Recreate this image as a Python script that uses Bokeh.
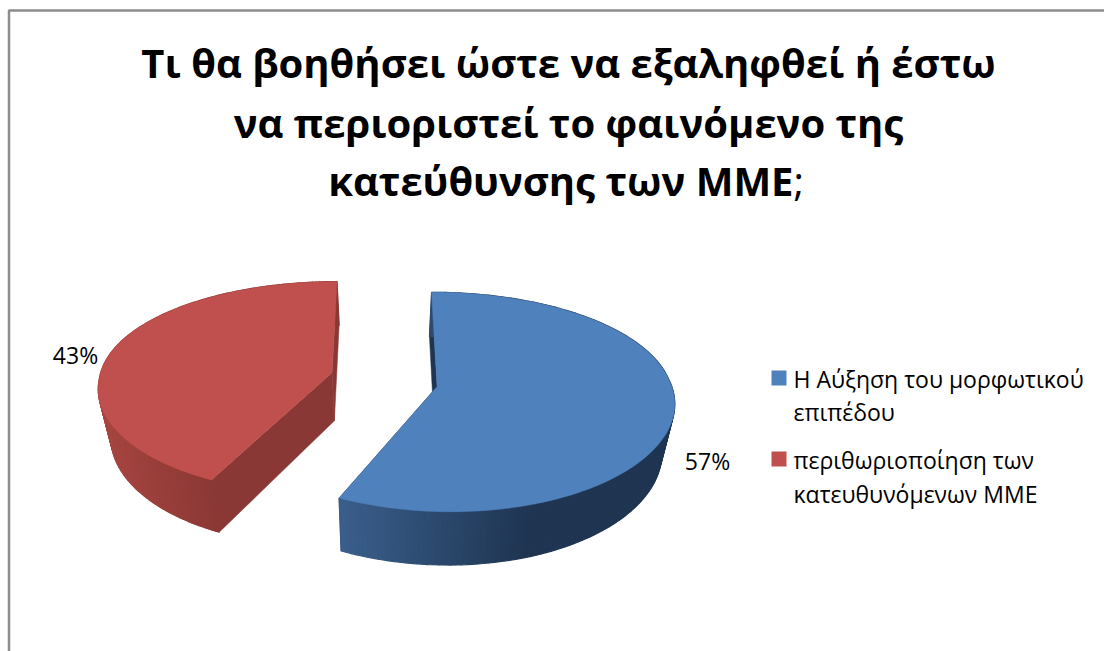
import math
from bokeh.plotting import figure
from bokeh.embed import file_html
from bokeh.resources import INLINE
from bokeh.core.properties import value

title_lines = ["Τι θα βοηθήσει ώστε να εξαληφθεί ή έστω",
               "να περιοριστεί το φαινόμενο της",
               "κατεύθυνσης των ΜΜΕ"]
title_tail = ";"
categories = ["Η Αύξηση του μορφωτικού επιπέδου",
              "περιθωριοποίηση των κατευθυνόμενων ΜΜΕ"]
legend_lines = [["Η Αύξηση του μορφωτικού", "επιπέδου"],
                ["περιθωριοποίηση των", "κατευθυνόμενων ΜΜΕ"]]
shares = [57, 43]
share_labels = ["57%", "43%"]
top_colors = ["#4F81BD", "#C0504D"]
wall_left = [(58, 95, 140), (166, 69, 64)]
wall_right = [(31, 53, 82), (138, 56, 53)]
edge_colors = ["#1F3552", "#8A3835"]

# Projection of the exploded 3D pie on to the page
VP_X, VP_Y = 383.5, 379.0
R_X, R_Y = 233.0, 105.6
PERSP_X, PERSP_Y = 0.106, 0.14
EXPLODE_U, EXPLODE_V = 0.23, 0.30
NEAR_SPREAD = 0.13
DEPTH_SCALE = 0.955
DROP_MID, DROP_TILT = 48.5, 4.5


def project(cu, cv, u, v, lower=False):
    """Page position of a disc point; (cu, cv) is the slice's explosion offset."""
    uu, vv = cu + u, cv + v
    cx = cu * (1.0 + NEAR_SPREAD * max(0.0, -vv))
    x = VP_X + R_X * (cx + u) / (1.0 + PERSP_X * vv)
    y = VP_Y - R_Y * vv / (1.0 + PERSP_Y * vv)
    if lower:
        x = VP_X + (x - VP_X) * DEPTH_SCALE
        y = y + DROP_MID - DROP_TILT * vv
    return x, y


def mix(a, b, f):
    f = max(0.0, min(1.0, f))
    return "#%02x%02x%02x" % tuple(round(p + (q - p) * f) for p, q in zip(a, b))


p = figure(width=1104, height=651, x_range=(0, 1104), y_range=(651, 0),
           output_backend="svg", toolbar_location=None, min_border=0,
           outline_line_color=None, background_fill_color="white")
p.axis.visible = False
p.grid.visible = False

# Chart frame, open towards the right and bottom edges
p.line([8.5, 8.5, 1104], [651, 10, 10], line_color="#8c8c8c", line_width=2.5)

total = sum(shares)
# Each slice is drawn whole: side faces, outer wall, then top surface
for i, share in reversed(list(enumerate(shares))):
    start = sum(shares[:i]) / total * 2 * math.pi
    end = start + share / total * 2 * math.pi
    mid = (start + end) / 2
    cu, cv = EXPLODE_U * math.sin(mid), EXPLODE_V * math.cos(mid)
    steps = 160
    ts = [start + (end - start) * k / steps for k in range(steps + 1)]
    rim = [(math.sin(t), math.cos(t)) for t in ts]

    # Radial side faces
    for a, b in ((rim[0], (0.0, 0.0)), ((0.0, 0.0), rim[-1])):
        corners = [project(cu, cv, *a), project(cu, cv, *b),
                   project(cu, cv, *b, True), project(cu, cv, *a, True)]
        p.patch([q[0] for q in corners], [q[1] for q in corners],
                fill_color=edge_colors[i], line_color=edge_colors[i], line_width=0.5)

    # Outer wall, shaded along its length
    xs, ys, cs = [], [], []
    for q0, q1 in zip(rim[:-1], rim[1:]):
        a0, a1 = project(cu, cv, *q0), project(cu, cv, *q1)
        b1, b0 = project(cu, cv, *q1, True), project(cu, cv, *q0, True)
        xs.append([a0[0], a1[0], b1[0], b0[0]])
        ys.append([a0[1], a1[1], b1[1], b0[1]])
        f = (a0[0] - 341) / 190 if i == 0 else (a0[0] - 100) / 115
        cs.append(mix(wall_left[i], wall_right[i], f))
    p.patches(xs, ys, fill_color=cs, line_color=cs, line_width=1.2)

    # Top surface
    pts = [project(cu, cv, 0.0, 0.0)] + [project(cu, cv, *q) for q in rim]
    p.patch([q[0] for q in pts], [q[1] for q in pts], fill_color=top_colors[i],
            line_color=top_colors[i], line_width=0.5)

font = value("Open Sans")
p.text([568, 568], [62, 122], text=title_lines[:2], text_font=font, text_font_style="bold",
       text_font_size="40px", text_color="black", text_align="center", text_baseline="middle")
p.text([793], [180], text=[title_lines[2]], text_font=font, text_font_style="bold",
       text_font_size="40px", text_color="black", text_align="right", text_baseline="middle")
p.text([793], [180], text=[title_tail], text_font=font, text_font_size="40px",
       text_color="black", text_align="left", text_baseline="middle")

# Percentage labels
p.text([707, 75], [460, 354], text=share_labels, text_font=font, text_font_size="23px",
       text_color="black", text_align="center", text_baseline="middle")

# Legend
p.rect([778.5, 778.5], [377.5, 458.5], width=15, height=15, fill_color=top_colors,
       line_color=None)
p.text([793] * 4, [378, 411, 459, 493],
       text=[s for pair in legend_lines for s in pair], text_font=font,
       text_font_size="23px", text_color="black", text_align="left", text_baseline="middle")

open("out.html", "w").write(file_html(p, INLINE))
